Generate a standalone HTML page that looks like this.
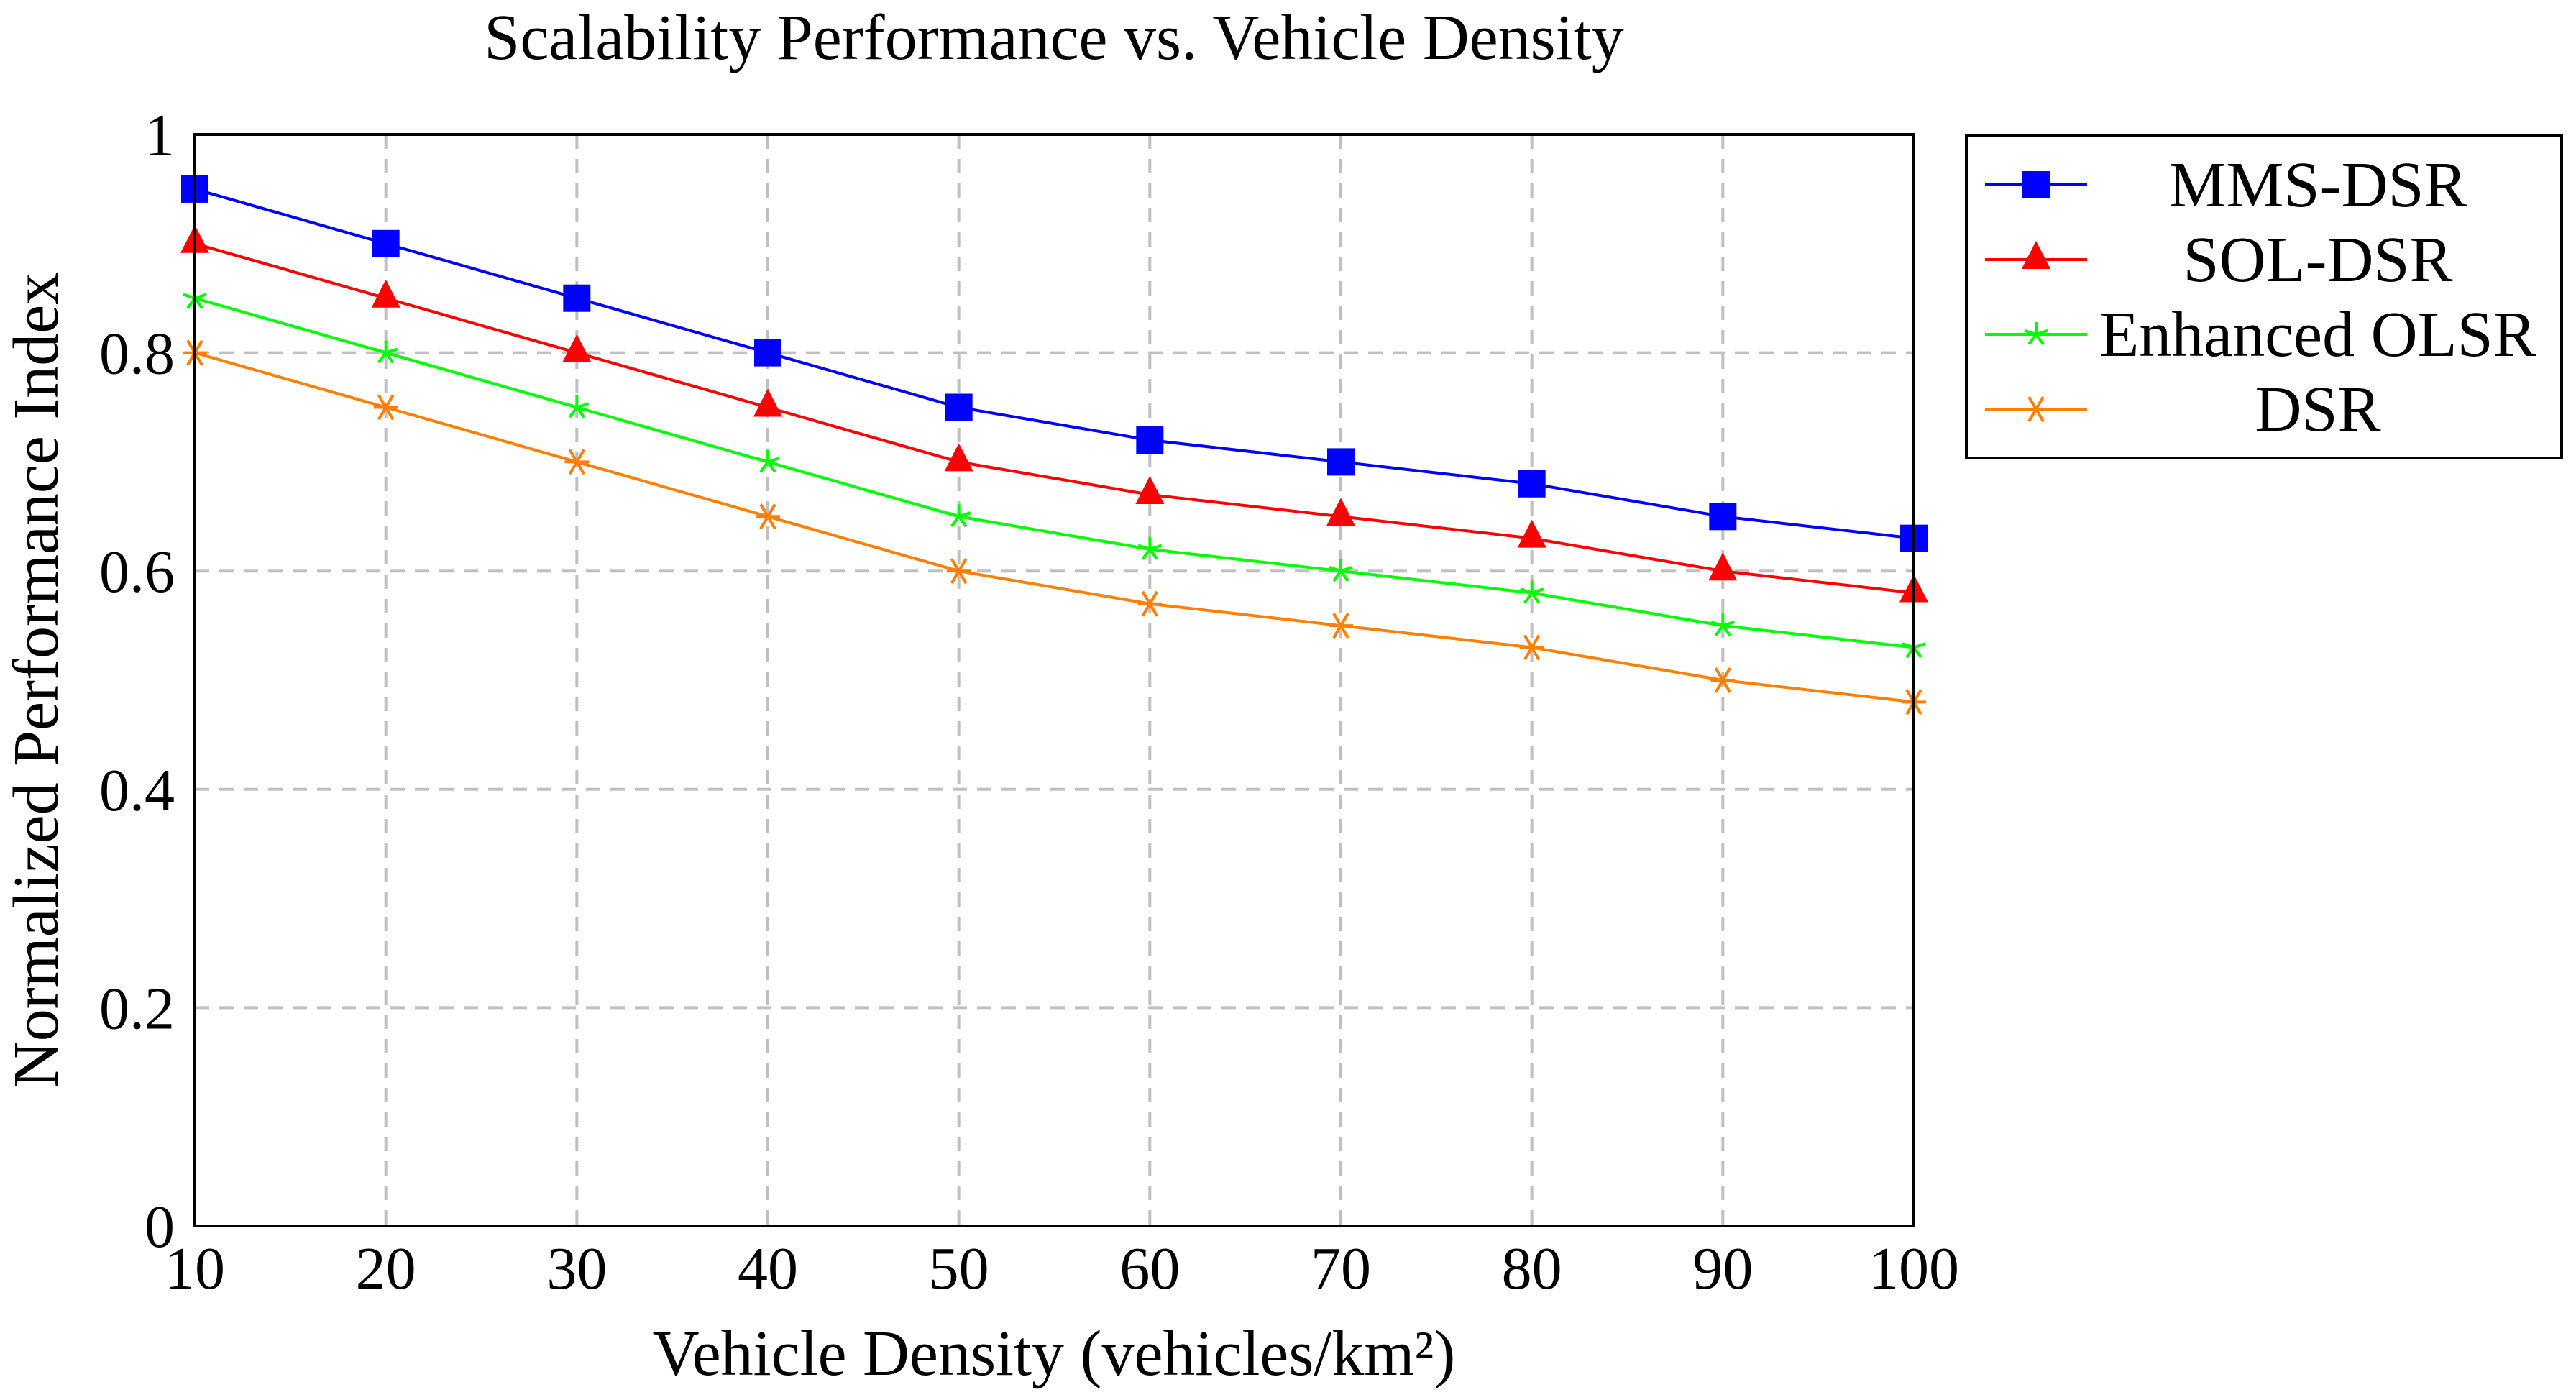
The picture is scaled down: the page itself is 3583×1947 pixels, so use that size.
<!DOCTYPE html>
<html><head><meta charset="utf-8"><style>
html,body{margin:0;padding:0;background:#fff;}
svg{display:block;font-family:"Liberation Serif",serif;}
</style></head><body>
<svg id="chart" width="3583" height="1947" viewBox="0 0 3583 1947" xmlns="http://www.w3.org/2000/svg">
<g id="grid"></g>
<g id="series"></g>
<rect x="271" y="187" width="2391" height="1518" fill="none" stroke="#000" stroke-width="4"/>
<g id="ticks"></g>
<text x="1466" y="82" font-size="90" text-anchor="middle">Scalability Performance vs. Vehicle Density</text>
<text x="1466" y="1912" font-size="90" text-anchor="middle">Vehicle Density (vehicles/km²)</text>
<text x="0" y="0" font-size="90" text-anchor="middle" transform="translate(80,946) rotate(-90)">Normalized Performance Index</text>
<g id="legend">
<rect x="2735" y="188" width="828" height="449" fill="#fff" stroke="#000" stroke-width="4"/>
</g>
</svg>
<script>
const categories=[10,20,30,40,50,60,70,80,90,100];
const mmsDsr=[0.95,0.9,0.85,0.8,0.75,0.72,0.7,0.68,0.65,0.63];
const solDsr=[0.9,0.85,0.8,0.75,0.7,0.67,0.65,0.63,0.6,0.58];
const enhancedOlsr=[0.85,0.8,0.75,0.7,0.65,0.62,0.6,0.58,0.55,0.53];
const dsr=[0.8,0.75,0.7,0.65,0.6,0.57,0.55,0.53,0.5,0.48];
const xTicks=[10,20,30,40,50,60,70,80,90,100];
const yTicks=[0,0.2,0.4,0.6,0.8,1];
const yTickLabels=["0","0.2","0.4","0.6","0.8","1"];
const seriesNames=["MMS-DSR","SOL-DSR","Enhanced OLSR","DSR"];

const NS="http://www.w3.org/2000/svg";
const L=271,R=2662,T=187,B=1705;
function xs(v){return L+(v-10)/90*(R-L);}
function ys(v){return B-v*(B-T);}
function mk(tag,attrs,parent){const e=document.createElementNS(NS,tag);for(const k in attrs)e.setAttribute(k,attrs[k]);parent.appendChild(e);return e;}
const grid=document.getElementById('grid'),ticks=document.getElementById('ticks'),sg=document.getElementById('series'),lg=document.getElementById('legend');
xTicks.forEach((t,i)=>{
  if(i>0&&i<xTicks.length-1){const g=mk('line',{x1:xs(t),x2:xs(t),y1:T,y2:B,stroke:'#c0c0c0','stroke-width':4,'stroke-dasharray':'20 14'},grid);
  
  }
  const tx=mk('text',{x:xs(t),y:1792,'font-size':84,'text-anchor':'middle'},ticks);tx.textContent=t;
  
  
});
yTicks.forEach((t,i)=>{
  if(i>0&&i<yTicks.length-1){const g=mk('line',{x1:L,x2:R,y1:ys(t),y2:ys(t),stroke:'#c0c0c0','stroke-width':4,'stroke-dasharray':'20 14'},grid);
  
  }
  const tx=mk('text',{x:243,y:ys(t)+29,'font-size':84,'text-anchor':'end'},ticks);tx.textContent=yTickLabels[i];
  
  
});
const colors=['#0000ff','#ff0000','#00ff00','#ff8000'];
const shapes=['square','triangle','star','cross'];
function marker(shape,x,y,c,parent){
  let e;
  if(shape==='square'){e=mk('rect',{x:x-19,y:y-19,width:38,height:38,fill:c},parent);}
  else if(shape==='triangle'){e=mk('polygon',{points:`${x},${y-26} ${x-20},${y+13} ${x+20},${y+13}`,fill:c},parent);}
  else if(shape==='star'){const d=[];for(let k=0;k<5;k++){const a=-Math.PI/2+k*2*Math.PI/5;d.push(`M${x} ${y}L${x+17*Math.cos(a)} ${y+17*Math.sin(a)}`);}e=mk('path',{d:d.join(''),stroke:c,'stroke-width':4,fill:'none'},parent);}
  else {e=mk('path',{d:`M${x-10} ${y-17}L${x+10} ${y+17}M${x+10} ${y-17}L${x-10} ${y+17}M${x-17} ${y}L${x+17} ${y}`,stroke:c,'stroke-width':4,fill:'none'},parent);}
  return e;
}
[mmsDsr,solDsr,enhancedOlsr,dsr].forEach((s,si)=>{
  const g=mk('g',{},sg);
  
  
  const p=mk('polyline',{points:s.map((v,i)=>xs(categories[i])+','+ys(v)).join(' '),fill:'none',stroke:colors[si],'stroke-width':4},g);
  
  
  s.forEach((v,i)=>{const m=marker(shapes[si],xs(categories[i]),ys(v),colors[si],g);
    
    });
  const ly=257+si*104;
  const le=mk('g',{},lg);
  
  
  mk('line',{x1:2761,x2:2903,y1:ly,y2:ly,stroke:colors[si],'stroke-width':4},le);
  marker(shapes[si],2832,ly,colors[si],le);
  const t=mk('text',{x:3224,y:ly+30,'font-size':90,'text-anchor':'middle'},le);t.textContent=seriesNames[si];
});
</script>
</body></html>
